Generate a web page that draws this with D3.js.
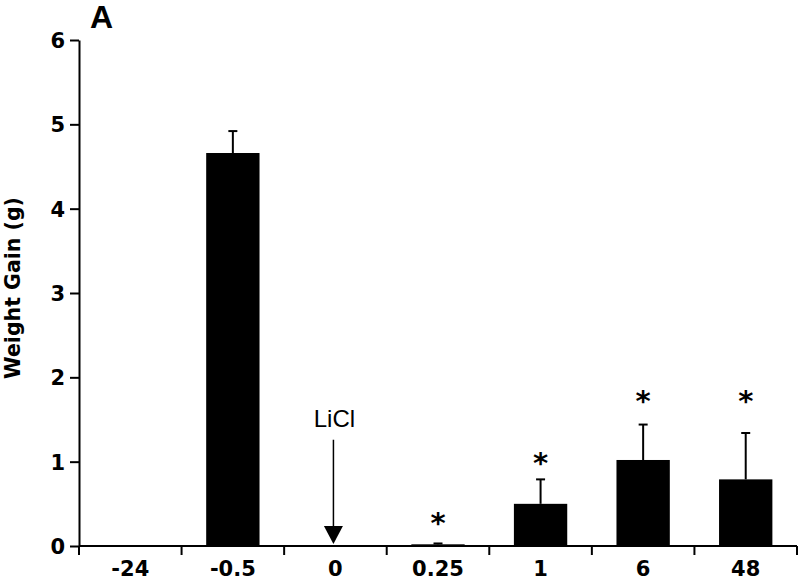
<!DOCTYPE html>
<html>
<head>
<meta charset="utf-8">
<script src="https://cdn.jsdelivr.net/npm/d3@7"></script>
<style>
  html, body { margin: 0; padding: 0; background: #fff; }
  svg { display: block; }
  text { font-family: "Liberation Sans", Arial, Helvetica, sans-serif; fill: #000; }
</style>
</head>
<body>
<svg id="chart" width="800" height="580"></svg>
<script>
// ---- data ----
const categories = ["-24", "-0.5", "0", "0.25", "1", "6", "48"];
const means      = [null, 4.66, null, 0.02, 0.50, 1.02, 0.79];
const errors     = [null, 0.26, null, 0.01, 0.29, 0.42, 0.55];
const starCats   = ["0.25", "1", "6", "48"];
const starLevels = [0.34, 1.055, 1.79, 1.79];   // star centre, in y units
const yTicks     = [0, 1, 2, 3, 4, 5, 6];
const yLabel     = "Weight Gain (g)";
const panelLabel = "A";
const arrowCat   = "0";
const arrowText  = "LiCl";
const arrowTop   = 1.26;   // y units
const arrowTextLevel = 1.41;

// ---- layout ----
const svg = d3.select("#chart");
const mLeft = 79, mRight = 797, mTop = 40, mBottom = 546;
const boldFont = "'DejaVu Sans', 'Liberation Sans', Arial, sans-serif";

const x = d3.scaleBand().domain(categories).range([mLeft, mRight])
  .paddingInner(0.48).paddingOuter(0.24);
const y = d3.scaleLinear().domain([0, 6]).range([mBottom, mTop]);

// bars
const data = categories.map((c, i) => ({ c, v: means[i], e: errors[i] }))
  .filter(d => d.v !== null);

svg.append("g").selectAll("rect").data(data).join("rect")
  .attr("x", d => x(d.c))
  .attr("width", x.bandwidth())
  .attr("y", d => y(d.v))
  .attr("height", d => y(0) - y(d.v))
  .attr("fill", "#000");

// error bars
const eg = svg.append("g").attr("stroke", "#000").attr("stroke-width", 2);
eg.selectAll("line.v").data(data).join("line").attr("class", "v")
  .attr("x1", d => x(d.c) + x.bandwidth() / 2)
  .attr("x2", d => x(d.c) + x.bandwidth() / 2)
  .attr("y1", d => y(d.v))
  .attr("y2", d => y(d.v + d.e));
eg.selectAll("line.cap").data(data).join("line").attr("class", "cap")
  .attr("x1", d => x(d.c) + x.bandwidth() / 2 - 4.5)
  .attr("x2", d => x(d.c) + x.bandwidth() / 2 + 4.5)
  .attr("y1", d => y(d.v + d.e))
  .attr("y2", d => y(d.v + d.e));

// stars
svg.append("g").selectAll("text").data(starCats).join("text")
  .attr("x", c => x(c) + x.bandwidth() / 2)
  .attr("y", (c, i) => y(starLevels[i]) + 16)
  .attr("text-anchor", "middle")
  .style("font-family", boldFont)
  .style("font-size", "29px")
  .style("font-weight", "bold")
  .text("*");

// y axis
const yAxis = d3.axisLeft(y).tickValues(yTicks).tickFormat(d3.format("d"))
  .tickSize(9).tickSizeOuter(0).tickPadding(5);
const gy = svg.append("g").attr("transform", `translate(${mLeft},0)`).call(yAxis);
gy.select(".domain").attr("stroke-width", 2);
gy.selectAll(".tick line").attr("stroke-width", 2);
gy.selectAll(".tick text")
  .attr("dy", "0.36em")
  .style("font-size", "21px").style("font-weight", "bold")
  .style("font-family", boldFont)
  .attr("fill", "#000");

// x axis (labels at band centres, separator ticks at band edges)
const xAxis = d3.axisBottom(x).tickSize(0).tickPadding(15);
const gx = svg.append("g").attr("transform", `translate(0,${mBottom})`).call(xAxis);
gx.select(".domain").attr("stroke-width", 2).attr("d", `M${mLeft},0H${mRight}`);
gx.selectAll(".tick text")
  .style("font-size", "21px").style("font-weight", "bold")
  .style("font-family", boldFont)
  .attr("fill", "#000");

const step = x.step();
const edges = d3.range(categories.length + 1).map(i => mLeft + i * step);
svg.append("g").selectAll("line").data(edges).join("line")
  .attr("x1", d => d).attr("x2", d => d)
  .attr("y1", mBottom).attr("y2", mBottom + 9)
  .attr("stroke", "#000").attr("stroke-width", 2);

// y label
svg.append("text")
  .attr("transform", `translate(20,288) rotate(-90)`)
  .attr("text-anchor", "middle")
  .style("font-family", boldFont)
  .style("font-size", "20.5px").style("font-weight", "bold")
  .text(yLabel);

// panel label
svg.append("text")
  .attr("x", 90).attr("y", 28)
  .style("font-size", "32px").style("font-weight", "bold")
  .text(panelLabel);

// LiCl arrow
const ax = x(arrowCat) + x.bandwidth() / 2 - 2;
svg.append("line")
  .attr("x1", ax).attr("x2", ax)
  .attr("y1", y(arrowTop)).attr("y2", y(0) - 18)
  .attr("stroke", "#000").attr("stroke-width", 1.5);
svg.append("path")
  .attr("d", d3.line()([[ax - 9.5, y(0) - 20], [ax + 9.5, y(0) - 20], [ax, y(0) - 2]]) + "Z")
  .attr("fill", "#000");
svg.append("text")
  .attr("x", ax + 1).attr("y", y(arrowTextLevel))
  .attr("text-anchor", "middle")
  .style("font-size", "24px")
  .text(arrowText);
</script>
</body>
</html>
